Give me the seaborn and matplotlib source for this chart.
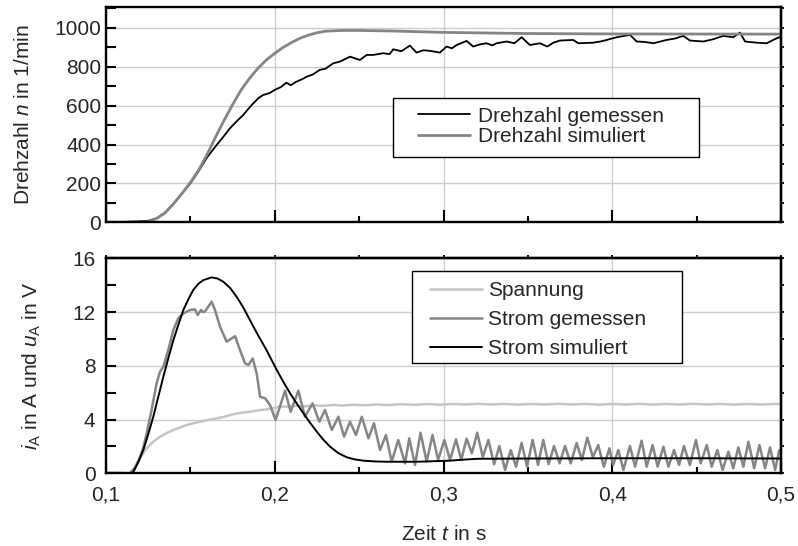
import matplotlib
matplotlib.use("Agg")
import matplotlib.pyplot as plt
import seaborn as sns
from matplotlib.lines import Line2D
from matplotlib.patches import Rectangle
from matplotlib.ticker import MultipleLocator

# ---------------- data ----------------
t_n_meas = [0.100, 0.110, 0.120, 0.125, 0.130, 0.135, 0.140, 0.145, 0.150, 0.155,
            0.160, 0.1656, 0.170, 0.1735, 0.1775, 0.1813, 0.1845, 0.1873, 0.1905, 0.1932,
            0.197, 0.200, 0.2035, 0.2069, 0.2095, 0.2125, 0.2160, 0.2189, 0.2225, 0.2267,
            0.2300, 0.2347, 0.2387, 0.2446, 0.2505, 0.2545, 0.2584, 0.2643, 0.2680, 0.2702,
            0.2750, 0.2801, 0.2840, 0.2880, 0.2920, 0.2979, 0.3018, 0.3050, 0.3078, 0.3137,
            0.3176, 0.3215, 0.3255, 0.3290, 0.3314, 0.3374, 0.3420, 0.3463, 0.3512, 0.3572,
            0.3615, 0.3651, 0.3690, 0.3768, 0.3800, 0.3887, 0.3930, 0.3967, 0.4026, 0.4105,
            0.4145, 0.4190, 0.4244, 0.4322, 0.4370, 0.4421, 0.4460, 0.4540, 0.4599, 0.4658,
            0.4717, 0.4757, 0.4787, 0.4856, 0.4915, 0.4975, 0.5000]
n_meas = [0, 2, 5, 8, 20, 50, 95, 148, 200, 265,
          335, 398, 445, 484, 520, 552, 585, 612, 640, 655,
          665, 681, 695, 718, 705, 722, 735, 749, 760, 784,
          790, 818, 827, 852, 835, 861, 861, 870, 865, 890,
          880, 909, 873, 885, 882, 873, 904, 895, 912, 933,
          904, 915, 921, 910, 921, 930, 921, 952, 912, 921,
          904, 924, 935, 938, 921, 924, 930, 938, 952, 964,
          930, 928, 921, 938, 945, 959, 935, 930, 942, 959,
          952, 976, 930, 924, 921, 947, 955]

t_n_sim = [0.100, 0.120, 0.125, 0.130, 0.135, 0.140, 0.145, 0.150, 0.155, 0.160,
           0.165, 0.170, 0.175, 0.180, 0.185, 0.190, 0.195, 0.200, 0.205, 0.210,
           0.215, 0.220, 0.225, 0.230, 0.240, 0.250, 0.270, 0.300, 0.350, 0.400, 0.500]
n_sim = [0, 0, 3, 20, 48, 95, 148, 205, 270, 350,
         440, 525, 605, 680, 740, 792, 835, 869, 900, 925,
         947, 963, 975, 983, 987, 987, 984, 977, 971, 969, 968]

t_u = [0.100, 0.108, 0.114, 0.116, 0.118, 0.120, 0.122, 0.1241, 0.128, 0.132,
       0.136, 0.1399, 0.144, 0.1478, 0.1517, 0.1557, 0.1606, 0.1656, 0.1705, 0.1754,
       0.180, 0.1853, 0.190, 0.1951, 0.199, 0.2031, 0.208, 0.213, 0.218, 0.223,
       0.228, 0.235, 0.240, 0.247, 0.253, 0.260, 0.267, 0.275, 0.283, 0.290,
       0.298, 0.305, 0.313, 0.320, 0.328, 0.336, 0.344, 0.352, 0.360, 0.368,
       0.376, 0.384, 0.392, 0.400, 0.408, 0.416, 0.424, 0.432, 0.440, 0.448,
       0.456, 0.464, 0.472, 0.480, 0.488, 0.496, 0.500]
u_A = [0.05, 0.05, 0.0, 0.1, 0.6, 1.1, 1.5, 1.86, 2.35, 2.72,
       3.0, 3.22, 3.42, 3.59, 3.72, 3.84, 3.97, 4.09, 4.22, 4.39,
       4.5, 4.58, 4.68, 4.76, 4.85, 4.96, 4.96, 5.02, 4.98, 5.06,
       5.02, 5.08, 5.04, 5.10, 5.06, 5.12, 5.08, 5.14, 5.10, 5.15,
       5.10, 5.16, 5.12, 5.17, 5.12, 5.16, 5.11, 5.16, 5.12, 5.17,
       5.12, 5.16, 5.11, 5.16, 5.12, 5.17, 5.11, 5.16, 5.12, 5.17,
       5.12, 5.16, 5.11, 5.16, 5.12, 5.16, 5.14]

t_i_meas = [0.100, 0.114, 0.117, 0.1195, 0.1221, 0.1245, 0.127, 0.130, 0.132, 0.134,
            0.1369, 0.1399, 0.1428, 0.1458, 0.1498, 0.1527, 0.1543, 0.1563, 0.1575, 0.1587,
            0.1626, 0.1646, 0.1676, 0.1715, 0.1745, 0.1765, 0.1794, 0.1824, 0.1844, 0.1869,
            0.1893, 0.1913, 0.1943, 0.1972, 0.2005, 0.2061, 0.2094, 0.2140, 0.2179, 0.2224,
            0.2264, 0.2298, 0.2338, 0.2377, 0.2411, 0.2446, 0.2481, 0.2516, 0.2555, 0.2588,
            0.2624, 0.2659, 0.2693, 0.2732, 0.2772, 0.2797, 0.2831, 0.2864, 0.2900, 0.2935,
            0.2968, 0.3005, 0.3039, 0.3074, 0.3105, 0.3137, 0.3168, 0.3200, 0.3233, 0.3266,
            0.3300, 0.3331, 0.3365, 0.3398, 0.3430, 0.3463, 0.3495, 0.3528, 0.3560, 0.3591,
            0.3623, 0.3655, 0.3688, 0.3720, 0.3754, 0.3789, 0.3820, 0.3852, 0.3885, 0.3917,
            0.3950, 0.3983, 0.4005, 0.4036, 0.4066, 0.4105, 0.4135, 0.4174, 0.4204, 0.4239,
            0.4269, 0.4303, 0.4333, 0.4366, 0.4396, 0.4425, 0.4460, 0.4496, 0.4524, 0.4560,
            0.4589, 0.4623, 0.4654, 0.4688, 0.4717, 0.4747, 0.4777, 0.4807, 0.4841, 0.4872,
            0.4906, 0.4935, 0.4965, 0.4990, 0.5000]
i_meas = [0.0, 0.0, 0.4, 1.0, 1.9, 3.2, 4.71, 6.7, 7.56, 7.93,
          9.17, 10.66, 11.53, 11.9, 12.15, 12.2, 11.78, 12.15, 12.0, 12.05,
          12.77, 12.15, 10.9, 9.79, 10.04, 10.2, 9.17, 8.18, 8.06, 8.55,
          7.44, 5.7, 5.58, 5.08, 3.97, 6.15, 4.58, 6.15, 4.21, 5.2,
          3.84, 4.71, 3.22, 4.21, 2.73, 3.84, 2.85, 4.21, 2.6, 3.72,
          1.73, 2.85, 0.87, 2.48, 0.74, 2.6, 0.62, 3.02, 0.87, 2.85,
          0.99, 2.48, 0.99, 2.53, 0.99, 2.58, 1.49, 3.02, 1.2, 2.48,
          0.67, 2.03, 0.25, 1.73, 0.49, 2.26, 0.49, 2.48, 0.62, 2.48,
          0.69, 2.03, 0.74, 2.03, 0.74, 2.26, 0.99, 2.65, 1.2, 2.1,
          0.49, 1.86, 0.62, 1.73, 0.25, 2.03, 0.49, 2.43, 0.49, 2.1,
          0.49, 1.98, 0.49, 1.73, 0.62, 2.03, 0.62, 2.48, 0.74, 2.1,
          0.49, 1.73, 0.25, 1.61, 0.37, 1.93, 0.49, 2.35, 0.37, 2.1,
          0.37, 1.93, 0.25, 1.73, 1.4]

t_i_sim = [0.100, 0.1155, 0.1162, 0.119, 0.1221, 0.125, 0.128, 0.131, 0.134, 0.137,
           0.1399, 0.143, 0.1458, 0.149, 0.1517, 0.1547, 0.1577, 0.1626, 0.166, 0.1695,
           0.1735, 0.1774, 0.1813, 0.1853, 0.190, 0.1951, 0.2012, 0.2051, 0.2091, 0.213,
           0.217, 0.221, 0.2249, 0.2288, 0.2328, 0.2377, 0.2427, 0.2476, 0.2525, 0.260,
           0.2664, 0.2842, 0.3039, 0.310, 0.320, 0.350, 0.400, 0.450, 0.500]
i_sim = [0.0, 0.0, 0.1, 0.8, 1.73, 2.9, 4.2, 5.7, 7.2, 8.6,
         9.9, 11.1, 12.15, 13.0, 13.64, 14.1, 14.38, 14.58, 14.5, 14.26,
         13.8, 13.14, 12.35, 11.4, 10.3, 9.17, 7.69, 6.8, 5.95, 5.2,
         4.46, 3.75, 3.1, 2.5, 1.98, 1.5, 1.19, 1.03, 0.94, 0.88,
         0.86, 0.86, 0.94, 1.0, 1.08, 1.1, 1.12, 1.12, 1.1]

x_ticks = [0.1, 0.2, 0.3, 0.4, 0.5]
x_tick_labels = ["0,1", "0,2", "0,3", "0,4", "0,5"]
n_ticks = [0, 200, 400, 600, 800, 1000]
i_ticks = [0, 4, 8, 12, 16]

legend_top = ["Drehzahl gemessen", "Drehzahl simuliert"]
legend_bottom = ["Spannung", "Strom gemessen", "Strom simuliert"]

# ---------------- style ----------------
sns.set_theme(style="white")
plt.rcParams["font.family"] = ["Liberation Sans", "DejaVu Sans"]
plt.rcParams["mathtext.fontset"] = "custom"
plt.rcParams["mathtext.rm"] = "Liberation Sans"
plt.rcParams["mathtext.it"] = "Liberation Sans:italic"
plt.rcParams["mathtext.bf"] = "Liberation Sans:bold"

FS = 15
BLACK = "#000000"
GRAY = "#858585"
LIGHT = "#c4c4c4"
GRID = "#cdcdcd"

fig = plt.figure(figsize=(7.98, 5.46), dpi=100)
W, H = 798, 546
ax1 = fig.add_axes([106 / W, 1 - 222.3 / H, 675 / W, 215 / H])
ax2 = fig.add_axes([106 / W, 1 - 473.3 / H, 675 / W, 215 / H])

# ---------------- lines ----------------
sns.lineplot(x=t_n_meas, y=n_meas, ax=ax1, color=BLACK, linewidth=1.3, estimator=None, legend=False)
sns.lineplot(x=t_n_sim, y=n_sim, ax=ax1, color=GRAY, linewidth=2.0, estimator=None, legend=False)

sns.lineplot(x=t_u, y=u_A, ax=ax2, color=LIGHT, linewidth=1.8, estimator=None, legend=False)
sns.lineplot(x=t_i_meas, y=i_meas, ax=ax2, color=GRAY, linewidth=1.8, estimator=None, legend=False)
sns.lineplot(x=t_i_sim, y=i_sim, ax=ax2, color=BLACK, linewidth=1.4, estimator=None, legend=False)

# ---------------- axes ----------------
for ax in (ax1, ax2):
    ax.set_xlim(0.1, 0.5)
    ax.set_xticks(x_ticks)
    ax.xaxis.set_minor_locator(MultipleLocator(0.05))
    ax.grid(True, which="major", color=GRID, linewidth=1.0)
    ax.set_axisbelow(True)
    for s in ax.spines.values():
        s.set_linewidth(1.7)
        s.set_color(BLACK)
    ax.tick_params(axis="x", which="major", direction="in", length=8.5, width=1.5, color=BLACK,
                   labelsize=FS, pad=8.5, bottom=True, top=False)
    ax.tick_params(axis="x", which="minor", direction="in", length=4.5, width=1.5, color=BLACK,
                   bottom=True, top=False)
    ax.tick_params(axis="y", which="both", direction="in", length=7, width=1.5, color=BLACK,
                   labelsize=FS, left=True, right=False)

ax1.set_ylim(0, 1106)
ax1.set_yticks(n_ticks)
ax1.yaxis.set_minor_locator(MultipleLocator(100))
ax1.tick_params(axis="y", which="major", pad=3.5)
ax1.tick_params(axis="x", labelbottom=False)
ax1.set_xlabel("")

ax2.set_ylim(0, 16)
ax2.set_yticks(i_ticks)
ax2.yaxis.set_minor_locator(MultipleLocator(2))
ax2.tick_params(axis="y", which="major", pad=7.5)
ax2.set_xticklabels(x_tick_labels)

# small outward ticks on right (both) and top (bottom panel)
for ax, step in ((ax1, 100), (ax2, 2)):
    sec = ax.secondary_yaxis("right")
    sec.yaxis.set_major_locator(MultipleLocator(step))
    sec.tick_params(direction="out", length=2.5, width=1.3, labelright=False, color=BLACK)
    sec.spines["right"].set_linewidth(1.7)
secx = ax2.secondary_xaxis("top")
secx.xaxis.set_major_locator(MultipleLocator(0.05))
secx.tick_params(direction="out", length=2.5, width=1.3, labeltop=False, color=BLACK)
secx.spines["top"].set_linewidth(1.7)

ax1.set_ylabel(r"Drehzahl $n$ in 1/min", fontsize=FS)
ax2.set_ylabel(r"$i_\mathregular{A}$ in A und $u_\mathregular{A}$ in V", fontsize=FS)
ax1.yaxis.set_label_coords(-0.108, 0.5)
ax2.yaxis.set_label_coords(-0.093, 0.5)
ax2.set_xlabel(r"Zeit $t$ in s", fontsize=FS, labelpad=15)

# ---------------- legends ----------------
def boxed_legend(ax, handles, labels, rect, anchor, tpad, lspace):
    box = Rectangle((rect[0], rect[1]), rect[2], rect[3], transform=ax.transAxes,
                    facecolor="white", edgecolor=BLACK, linewidth=1.0, zorder=4)
    ax.add_patch(box)
    leg = ax.legend(handles, labels, loc="upper left", bbox_to_anchor=anchor,
                    borderaxespad=0, borderpad=0, frameon=False, fontsize=FS,
                    handlelength=2.5, handletextpad=tpad, labelspacing=lspace)
    leg.set_zorder(5)
    return leg

h1 = [Line2D([], [], color=BLACK, linewidth=1.3), Line2D([], [], color=GRAY, linewidth=2.0)]
boxed_legend(ax1, h1, legend_top, (0.4252, 0.3037, 0.4533, 0.2744), (0.4622, 0.538), 0.38, 0.06)

h2 = [Line2D([], [], color=LIGHT, linewidth=1.8), Line2D([], [], color=GRAY, linewidth=1.8),
      Line2D([], [], color=BLACK, linewidth=1.4)]
boxed_legend(ax2, h2, legend_bottom, (0.4533, 0.513, 0.4, 0.4279), (0.48, 0.8925), 0.29, 0.47)

fig.savefig("out.png", dpi=100)
